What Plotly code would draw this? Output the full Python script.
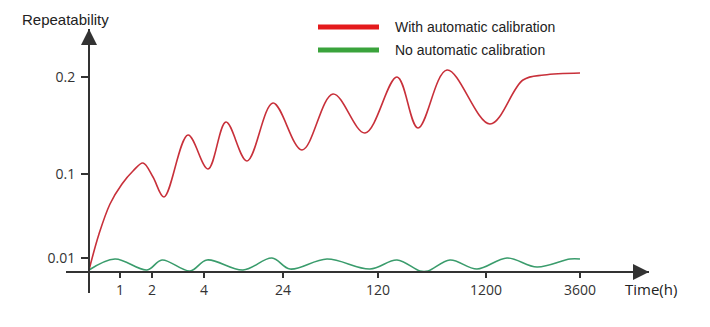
import plotly.graph_objects as go

# Schematic time positions (axis units) and repeatability curve values (axis units)
red_x = [0, 10, 21, 33, 44, 54, 64, 75, 99, 119, 137, 158, 184, 213, 244, 276, 308, 329, 358, 401, 434, 455, 491]
red_y = [2, 38, 68, 88, 101, 109, 95, 75, 137, 103, 150, 111, 169, 122, 178, 139, 195, 144, 202, 148, 192, 197, 199]

green_x = [0, 26, 58, 73, 101, 118, 154, 183, 201, 238, 281, 308, 331, 339, 361, 388, 418, 448, 481, 491]
green_y = [2, 13, 2, 12, 1, 12, 2, 14, 3, 13, 3, 12, 1, 1, 12, 3, 14, 5, 13, 13]

x_tick_pos = [31, 63, 115, 194, 289, 397, 491]
x_tick_labels = ["1", "2", "4", "24", "120", "1200", "3600"]
y_tick_pos = [14, 98, 195]
y_tick_labels = ["0.01", "0.1", "0.2"]

series_names = ["With automatic calibration", "No automatic calibration"]
curve_colors = ["#c8303a", "#3a9c6c"]
legend_colors = ["#e41a1c", "#3aa33c"]

W, H = 710, 327
AX = "#333333"

fig = go.Figure()
fig.add_trace(go.Scatter(x=red_x, y=red_y, mode="lines", name=series_names[0],
                         line=dict(color=curve_colors[0], width=1.6, shape="spline", smoothing=1.0),
                         showlegend=False, cliponaxis=False))
fig.add_trace(go.Scatter(x=green_x, y=green_y, mode="lines", name=series_names[1],
                         line=dict(color=curve_colors[1], width=1.6, shape="spline", smoothing=1.0),
                         showlegend=False, cliponaxis=False))

# pixel geometry of schematic axes
ox, oy = 89, 272  # origin pixel
x_left, x_right = 66, 649
y_bottom, y_top = 293, 29

fig.update_layout(
    width=W, height=H, margin=dict(l=0, r=0, t=0, b=0),
    paper_bgcolor="white", plot_bgcolor="white",
    xaxis=dict(domain=[x_left / W, x_right / W], range=[x_left - ox, x_right - ox],
               anchor="free", position=(H - oy) / H,
               showline=True, linecolor=AX, linewidth=2,
               showgrid=False, zeroline=False,
               tickmode="array", tickvals=x_tick_pos, ticktext=x_tick_labels,
               ticks="outside", ticklen=5, tickwidth=1.5, tickcolor=AX,
               tickfont=dict(family="Open Sans", size=14, color="#333333")),
    yaxis=dict(domain=[(H - y_bottom) / H, (H - y_top) / H], range=[oy - y_bottom, oy - y_top],
               anchor="free", position=ox / W, side="left",
               showline=True, linecolor=AX, linewidth=2,
               showgrid=False, zeroline=False,
               tickmode="array", tickvals=y_tick_pos, ticktext=y_tick_labels,
               ticks="outside", ticklen=7, tickwidth=1.5, tickcolor=AX,
               ticklabelstandoff=3,
               tickfont=dict(family="Open Sans", size=14, color="#333333")),
    showlegend=False,
)

# arrow heads
fig.add_annotation(x=x_right - ox, y=0, xref="x", yref="y", ax=-12, ay=0, text="",
                   showarrow=True, arrowhead=2, arrowsize=1.6, arrowwidth=2, arrowcolor=AX)
fig.add_annotation(x=0, y=oy - y_top, xref="x", yref="y", ax=0, ay=12, text="",
                   showarrow=True, arrowhead=2, arrowsize=1.6, arrowwidth=2, arrowcolor=AX)

# axis titles
fig.add_annotation(x=20 / W, y=(H - 19) / H, xref="paper", yref="paper", xanchor="left", yanchor="middle",
                   text="Repeatability", showarrow=False,
                   font=dict(family="Liberation Sans", size=15, color="#222222"))
fig.add_annotation(x=623 / W, y=(H - 289) / H, xref="paper", yref="paper", xanchor="left", yanchor="middle",
                   text="Time(h)", showarrow=False,
                   font=dict(family="Open Sans", size=15, color="#222222"))

# legend
for i, (name, col) in enumerate(zip(series_names, legend_colors)):
    ly = 27 + 23 * i
    fig.add_shape(type="line", xref="paper", yref="paper",
                  x0=318 / W, x1=379 / W, y0=(H - ly) / H, y1=(H - ly) / H,
                  line=dict(color=col, width=5))
    fig.add_annotation(x=393 / W, y=(H - ly) / H, xref="paper", yref="paper",
                       xanchor="left", yanchor="middle", text=name, showarrow=False,
                       font=dict(family="Liberation Sans", size=14, color="#222222"))

fig.write_html("out.html")
